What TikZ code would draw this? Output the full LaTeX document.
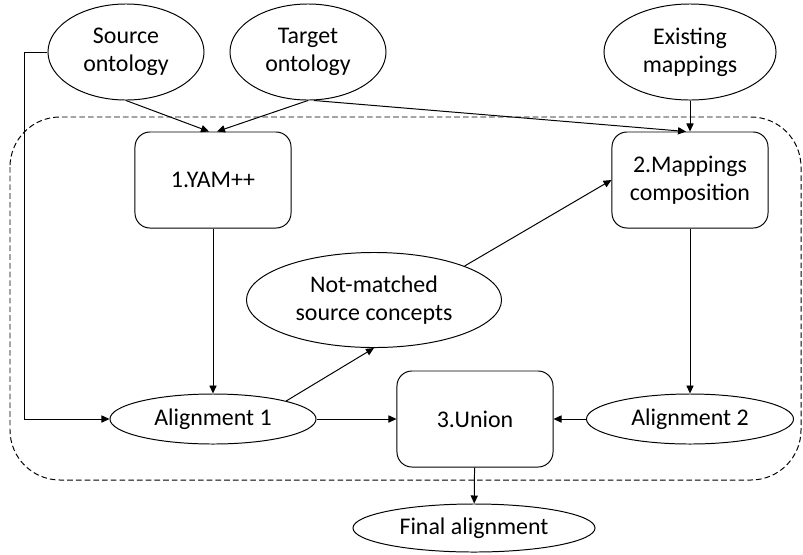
\documentclass[tikz,border=0pt]{standalone}
\usepackage{fontspec}
\setmainfont{Carlito}
\usetikzlibrary{shapes.geometric,arrows.meta}

\begin{document}
\begin{tikzpicture}[x=0.025cm,y=-0.025cm]
\tikzset{elnoeud/.style={draw, ellipse, inner sep=0pt, align=center, line width=0.7pt},
  boite/.style={draw, rectangle, rounded corners=0.375cm, inner sep=0pt, align=center, line width=0.7pt, minimum width=3.9cm, minimum height=2.4cm},
  fleche/.style={-{Triangle[length=2mm,width=1.8mm]}, line width=0.7pt}}
\useasboundingbox (0,0) rectangle (803,554);
\fontsize{17}{20}\selectfont
\draw[line width=0.7pt, dash pattern=on 4pt off 2.2pt, rounded corners=1.25cm] (10,117) rectangle (801,480);
\node[elnoeud, minimum width=3.9cm, minimum height=2.4cm] (src) at (126,52) {Source\\ontology};
\node[elnoeud, minimum width=3.9cm, minimum height=2.4cm] (tgt) at (308,52) {Target\\ontology};
\node[elnoeud, minimum width=4.3cm, minimum height=2.4cm] (exist) at (690,52) {Existing\\mappings};
\node[boite] (yam) at (213,180) {1.YAM++};
\node[boite] (map) at (690,180) {2.Mappings\\composition};
\node[elnoeud, minimum width=6.375cm, minimum height=2.375cm] (notm) at (374,300) {Not-matched\\source concepts};
\node[elnoeud, minimum width=5.15cm, minimum height=1.25cm] (al1) at (213,419) {Alignment 1};
\node[boite] (union) at (475,419) {3.Union};
\node[elnoeud, minimum width=5.175cm, minimum height=1.25cm] (al2) at (690,419) {Alignment 2};
\node[elnoeud, minimum width=6.05cm, minimum height=1.2cm] (final) at (474,528) {Final alignment};
\draw[fleche] (src.south) -- ([xshift=-0.1cm]yam.north);
\draw[fleche] (tgt.south) -- ([xshift=0.1cm]yam.north);
\draw[fleche] ([xshift=0.15cm]tgt.south) -- ([xshift=-0.1cm]map.north);
\draw[fleche] (exist) -- (map);
\draw[fleche] (src.west) -- ++(-23,0) |- (al1.west);
\draw[fleche] (yam) -- (al1);
\draw[fleche] (al1.north east) -- (notm.south);
\draw[fleche] (notm.north east) -- (map.west);
\draw[fleche] (map) -- (al2);
\draw[fleche] (al1) -- (union);
\draw[fleche] (al2) -- (union);
\draw[fleche] (union) -- (final);
\end{tikzpicture}
\end{document}
